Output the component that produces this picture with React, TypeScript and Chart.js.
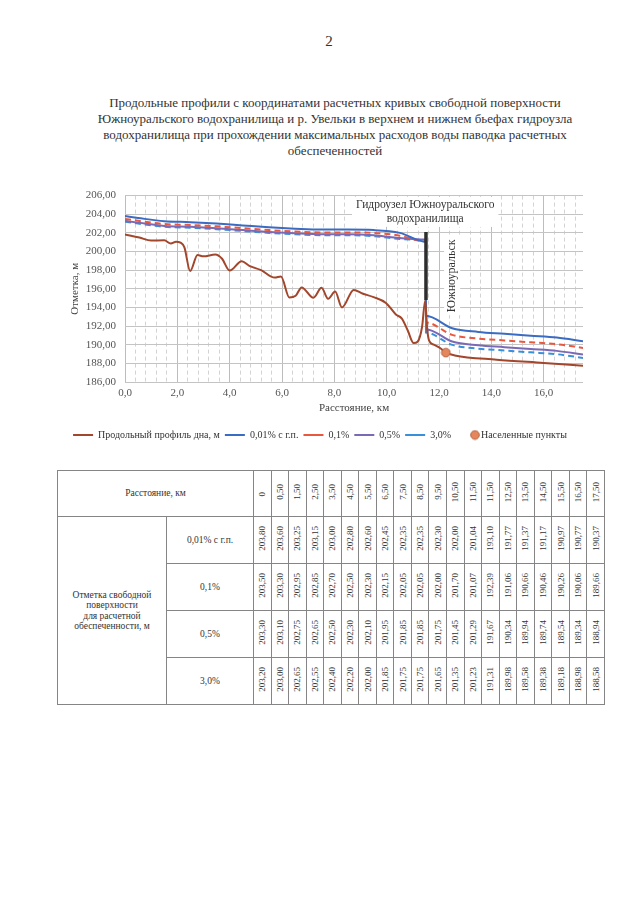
import React, { useEffect, useRef } from 'react';
import { Chart, registerables } from 'chart.js';

Chart.register(...registerables);

const FONT = "'Liberation Serif', 'Times New Roman', serif";

// ---- data ----
const distances = [0, 0.5, 1.5, 2.5, 3.5, 4.5, 5.5, 6.5, 7.5, 8.5, 9.5, 10.5, 11.5, 11.5, 12.5, 13.5, 14.5, 15.5, 16.5, 17.5];
const level001 = [203.8, 203.6, 203.25, 203.15, 203.0, 202.8, 202.6, 202.45, 202.35, 202.35, 202.3, 202.0, 201.04, 193.1, 191.77, 191.37, 191.17, 190.97, 190.77, 190.37];
const level01 = [203.5, 203.3, 202.95, 202.85, 202.7, 202.5, 202.3, 202.15, 202.05, 202.05, 202.0, 201.7, 201.07, 192.39, 191.06, 190.66, 190.46, 190.26, 190.06, 189.66];
const level05 = [203.3, 203.1, 202.75, 202.65, 202.5, 202.3, 202.1, 201.95, 201.85, 201.85, 201.75, 201.45, 201.29, 191.67, 190.34, 189.94, 189.74, 189.54, 189.34, 188.94];
const level3 = [203.2, 203.0, 202.65, 202.55, 202.4, 202.2, 202.0, 201.85, 201.75, 201.75, 201.65, 201.35, 201.23, 191.31, 189.98, 189.58, 189.38, 189.18, 188.98, 188.58];

const profileX = [0, 0.55, 1.0, 1.5, 1.75, 1.95, 2.12, 2.27, 2.49, 2.77, 3.0, 3.45, 3.7, 4.0, 4.46, 4.75, 5.2, 5.72, 5.96, 6.28, 6.52, 6.75, 7.2, 7.51, 7.76, 8.03, 8.29, 8.74, 9.07, 9.5, 9.97, 10.35, 10.58, 10.8, 11.03, 11.18, 11.35, 11.47, 11.55, 11.62, 11.8, 12.05, 12.26, 12.6, 14.2, 16.0, 17.5];
const profileY = [201.82, 201.5, 201.18, 201.2, 200.85, 201.05, 200.95, 200.45, 197.9, 199.62, 199.48, 199.68, 199.25, 197.96, 198.96, 198.47, 198.0, 197.2, 197.32, 195.07, 195.25, 196.15, 195.04, 196.1, 194.93, 195.7, 194.0, 195.88, 195.5, 195.1, 194.48, 193.25, 192.8, 191.55, 190.18, 190.32, 191.9, 194.75, 191.6, 190.45, 190.0, 189.62, 189.15, 188.85, 188.4, 188.05, 187.75];

const settlementX = [12.26];
const settlementY = [189.15];

const damX = [11.5, 11.5];
const damY = [194.8, 202.1];

const yMin = 186;
const yMax = 206;
const yStep = 2;
const xMax = 17.5;
const xMajorStep = 2;
const xMinorStep = 0.4;

const seriesLabels = ['0,01% с г.п.', '0,1%', '0,5%', '3,0%'];
const seriesValues = [level001, level01, level05, level3];
const seriesColors = ['#3b6cc3', '#e8583f', '#7c69b5', '#3a90d8'];
const seriesDash: number[][] = [[], [6, 4], [], [6, 4]];

const damLabel = ['Гидроузел Южноуральского', 'водохранилища'];
const townLabel = 'Южноуральск';

const fmtComma = (v: number, d: number) => v.toFixed(d).replace('.', ',');
const isMajor = (v: number) => Math.abs(v / xMajorStep - Math.round(v / xMajorStep)) < 1e-6;

function makeDot(w: number, cx: number) {
  const c = document.createElement('canvas');
  c.width = w;
  c.height = 11;
  const g = c.getContext('2d')!;
  g.beginPath();
  g.arc(cx, 5.5, 4.3, 0, Math.PI * 2);
  g.fillStyle = '#e5875c';
  g.fill();
  g.lineWidth = 1;
  g.strokeStyle = '#b0603e';
  g.stroke();
  return c;
}

const annotPlugin = {
  id: 'annot',
  beforeDatasetsDraw(chart: any) {
    const { ctx } = chart;
    const xs = chart.scales.x;
    const ys = chart.scales.y;
    ctx.save();
    ctx.font = `11.5px ${FONT}`;
    ctx.textAlign = 'center';
    ctx.textBaseline = 'middle';
    const cx = xs.getPixelForValue(11.47);
    const y1 = ys.getPixelForValue(205);
    const y2 = ys.getPixelForValue(203.5);
    const w = Math.max(ctx.measureText(damLabel[0]).width, ctx.measureText(damLabel[1]).width) + 8;
    ctx.fillStyle = '#ffffff';
    ctx.fillRect(cx - w / 2, y1 - 8, w, y2 - y1 + 16);
    ctx.fillStyle = '#333';
    ctx.fillText(damLabel[0], cx, y1);
    ctx.fillText(damLabel[1], cx, y2);

    ctx.font = `12px ${FONT}`;
    const tx = xs.getPixelForValue(12.5);
    const ty = ys.getPixelForValue(197.4);
    ctx.translate(tx, ty);
    ctx.rotate(-Math.PI / 2);
    const tw = ctx.measureText(townLabel).width + 6;
    ctx.fillStyle = '#ffffff';
    ctx.fillRect(-tw / 2, -8, tw, 16);
    ctx.fillStyle = '#333';
    ctx.fillText(townLabel, 0, 0);
    ctx.restore();
  },
};

function ChartBlock() {
  const ref = useRef<HTMLCanvasElement>(null);
  useEffect(() => {
    const dot = makeDot(11, 5.5);
    const legendDot = makeDot(30, 24);
    const xTickValues: number[] = [];
    for (let i = 0; i * xMinorStep < xMax - 0.05; i++) xTickValues.push(+(i * xMinorStep).toFixed(1));

    const lineDatasets = seriesValues.map((vals, k) => ({
      label: seriesLabels[k],
      data: distances.map((x, i) => ({ x, y: vals[i] })),
      borderColor: seriesColors[k],
      backgroundColor: seriesColors[k],
      borderWidth: 2,
      borderDash: seriesDash[k],
      pointRadius: 0,
      pointStyle: 'line',
      cubicInterpolationMode: 'monotone',
      fill: false,
    }));

    const chart = new Chart(ref.current!, {
      type: 'line',
      data: {
        datasets: [
          {
            label: 'Продольный профиль дна, м',
            data: profileX.map((x, i) => ({ x, y: profileY[i] })),
            borderColor: '#a2462c',
            backgroundColor: '#a2462c',
            borderWidth: 2,
            pointRadius: 0,
            pointStyle: 'line',
            cubicInterpolationMode: 'monotone',
            fill: false,
          },
          ...lineDatasets,
          {
            label: 'Населенные пункты',
            data: settlementX.map((x, i) => ({ x, y: settlementY[i] })),
            showLine: false,
            pointStyle: dot,
            pointRadius: 5,
            borderColor: '#b0603e',
            backgroundColor: '#e5875c',
            order: -2,
          },
          {
            label: 'dam',
            data: damX.map((x, i) => ({ x, y: damY[i] })),
            borderColor: '#2e2e2e',
            borderWidth: 3.5,
            pointRadius: 0,
            fill: false,
            order: -1,
          },
        ] as any,
      },
      options: {
        animation: false,
        responsive: true,
        maintainAspectRatio: false,
        layout: { padding: { left: 0, right: 0, top: 15, bottom: 10 } },
        plugins: {
          tooltip: { enabled: false },
          title: { display: false },
          legend: {
            position: 'bottom',
            labels: {
              usePointStyle: true,
              pointStyleWidth: 20,
              padding: 5,
              color: '#333',
              font: { family: FONT, size: 10 },
              sort: (a: any, b: any) => a.datasetIndex - b.datasetIndex,
              filter: (it: any) => it.text !== 'dam',
              generateLabels: (ch: any) => {
                const items = (Chart.defaults.plugins.legend.labels as any).generateLabels(ch);
                return items.map((it: any) => (it.text === 'Населенные пункты' ? { ...it, pointStyle: legendDot } : it));
              },
            },
          },
        },
        scales: {
          x: {
            type: 'linear',
            min: 0,
            max: xMax,
            afterBuildTicks: (axis: any) => {
              axis.ticks = xTickValues.map((value) => ({ value }));
            },
            afterFit: (s: any) => {
              s.height = 43;
            },
            ticks: {
              autoSkip: false,
              maxRotation: 0,
              minRotation: 0,
              padding: 4.5,
              color: '#555',
              font: { family: FONT, size: 11 },
              callback: (v: any) => (isMajor(Number(v)) ? fmtComma(Number(v), 1) : ''),
            },
            grid: {
              drawTicks: false,
              color: (c: any) => (c.tick && isMajor(c.tick.value) ? '#bdbdbd' : '#d3d3d3'),
              lineWidth: 1,
            },
            border: {
              display: false,
              dash: (c: any) => (c.tick && isMajor(c.tick.value) ? [] : [4, 3]),
            },
            title: {
              display: true,
              text: 'Расстояние, км',
              color: '#444',
              font: { family: FONT, size: 11 },
              padding: { top: 2, bottom: 10.4 },
            },
          },
          y: {
            min: yMin,
            max: yMax,
            ticks: {
              stepSize: yStep,
              padding: 9,
              color: '#555',
              font: { family: FONT, size: 11 },
              callback: (v: any) => fmtComma(Number(v), 2),
            },
            grid: { drawTicks: false, color: '#c4c4c4', lineWidth: 1 },
            border: { display: false },
            title: {
              display: true,
              text: 'Отметка, м',
              color: '#444',
              font: { family: FONT, size: 11 },
              padding: { top: 68.4, bottom: 0 },
            },
            afterFit: (s: any) => {
              s.width = 125;
            },
          },
          y2: {
            position: 'right',
            display: true,
            grid: { display: false, drawTicks: false },
            ticks: { display: false },
            border: { display: false },
            afterFit: (s: any) => {
              s.width = 57;
            },
          },
        },
      } as any,
      plugins: [annotPlugin],
    });
    return () => chart.destroy();
  }, []);
  return (
    <div style={{ position: 'absolute', left: 0, top: 180, width: 640, height: 280 }}>
      <canvas ref={ref} />
    </div>
  );
}

const cellBase: React.CSSProperties = {
  border: '1px solid #858585',
  padding: 0,
  textAlign: 'center',
  verticalAlign: 'middle',
  fontSize: 9.5,
  lineHeight: '10.5px',
};

const vert: React.CSSProperties = {
  display: 'inline-block',
  writingMode: 'vertical-rl',
  transform: 'rotate(180deg)',
  fontSize: 9,
  lineHeight: '10px',
  whiteSpace: 'nowrap',
};

function DataTable() {
  return (
    <table
      style={{
        position: 'absolute',
        left: 57,
        top: 470,
        width: 547,
        height: 234,
        borderCollapse: 'collapse',
        tableLayout: 'fixed',
        fontFamily: FONT,
        color: '#333',
      }}
    >
      <colgroup>
        <col style={{ width: 109 }} />
        <col style={{ width: 87 }} />
        {distances.map((_, i) => (
          <col key={i} style={{ width: 17.55 }} />
        ))}
      </colgroup>
      <tbody>
        <tr style={{ height: 46 }}>
          <td colSpan={2} style={cellBase}>
            Расстояние, км
          </td>
          {distances.map((d, i) => (
            <td key={i} style={cellBase}>
              <span style={vert}>{d === 0 ? '0' : fmtComma(d, 2)}</span>
            </td>
          ))}
        </tr>
        {seriesValues.map((vals, r) => (
          <tr key={r} style={{ height: 47 }}>
            {r === 0 && (
              <td rowSpan={4} style={cellBase}>
                Отметка свободной
                <br />
                поверхности
                <br />
                для расчетной
                <br />
                обеспеченности, м
              </td>
            )}
            <td style={cellBase}>{seriesLabels[r]}</td>
            {vals.map((v, i) => (
              <td key={i} style={cellBase}>
                <span style={vert}>{fmtComma(v, 2)}</span>
              </td>
            ))}
          </tr>
        ))}
      </tbody>
    </table>
  );
}

export default function App() {
  return (
    <div
      style={{
        position: 'absolute',
        left: 0,
        top: 0,
        width: 640,
        height: 923,
        background: '#ffffff',
        fontFamily: FONT,
        color: '#333',
        overflow: 'hidden',
      }}
    >
      <div style={{ position: 'absolute', left: 0, width: 658, top: 33, textAlign: 'center', fontSize: 15, lineHeight: '17px' }}>2</div>
      <div style={{ position: 'absolute', left: 0, width: 670, top: 95, textAlign: 'center', fontSize: 13, lineHeight: '16px' }}>
        Продольные профили с координатами расчетных кривых свободной поверхности
        <br />
        Южноуральского водохранилища и р. Увельки в верхнем и нижнем бьефах гидроузла
        <br />
        водохранилища при прохождении максимальных расходов воды паводка расчетных
        <br />
        обеспеченностей
      </div>
      <ChartBlock />
      <DataTable />
    </div>
  );
}
